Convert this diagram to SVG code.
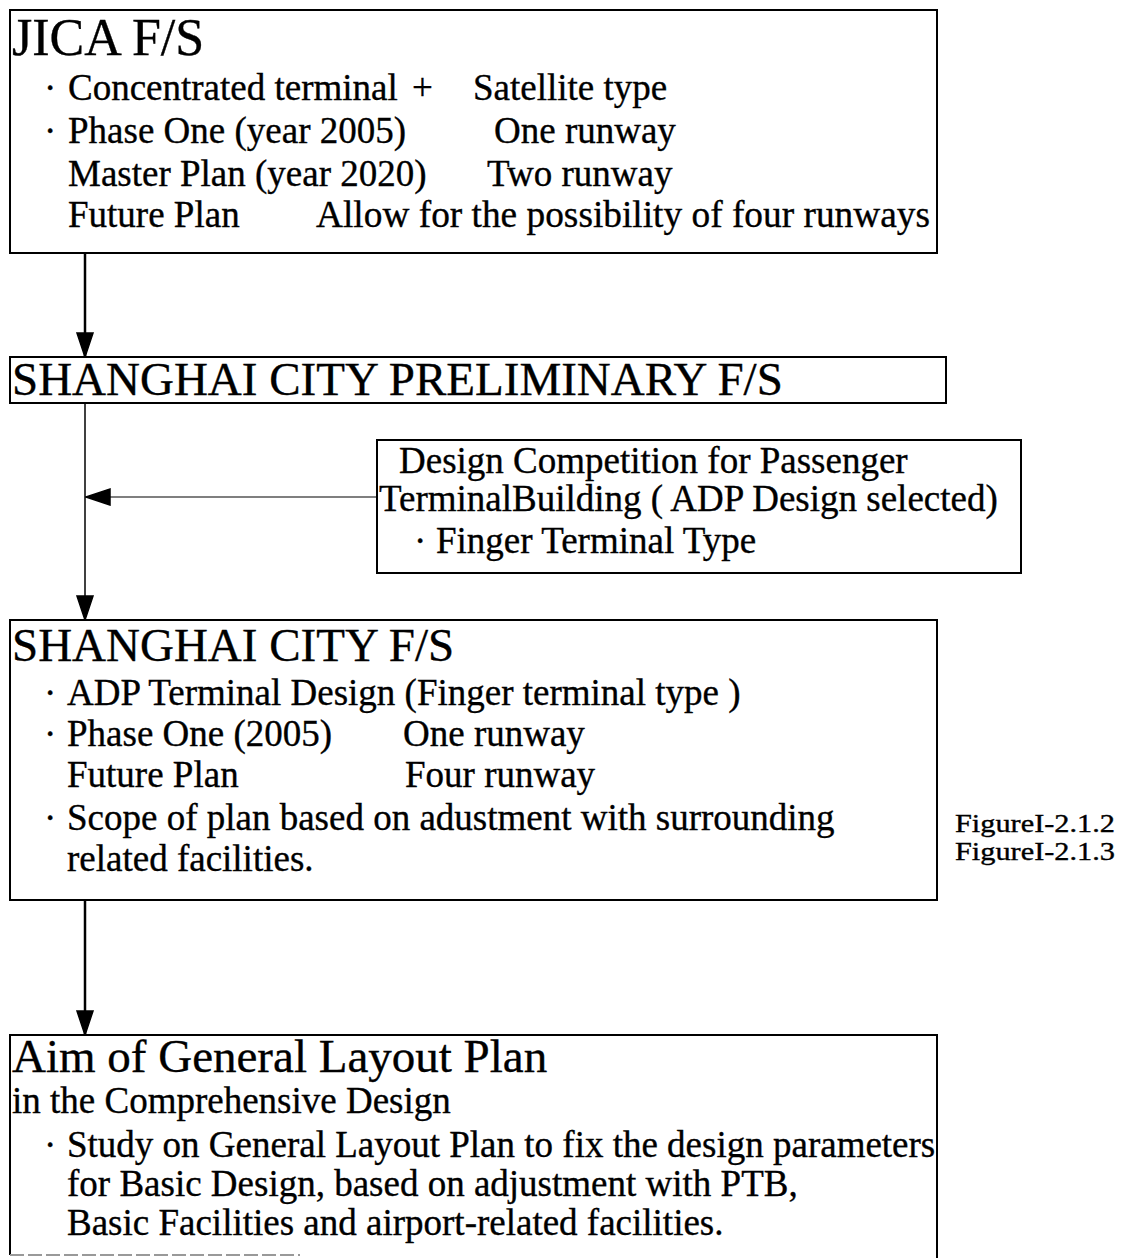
<svg xmlns="http://www.w3.org/2000/svg" width="1125" height="1258" viewBox="0 0 1125 1258">
<style>
  .box { fill: none; stroke: #000; stroke-width: 2; }
  .t { font-family: "Liberation Serif", "Times New Roman", serif; fill: #000; stroke: #000; stroke-width: 0.35; }
  .h1 { font-size: 47px; }
  .b { font-size: 37px; }
  .s { font-size: 25px; }
  .link { fill: none; stroke: #000; stroke-width: 2.5; }
  .thin { stroke-width: 1.5; }
  .hair { stroke-width: 1.2; }
</style>
<defs>
  <marker id="arrow" markerUnits="userSpaceOnUse" markerWidth="26" markerHeight="20" viewBox="0 0 26 20" refX="25" refY="10" orient="auto">
    <path d="M1,2 L25,10 L1,18 Z" fill="#000" stroke="#000" stroke-width="1.5" stroke-linejoin="miter"/>
  </marker>
</defs>
<rect width="1125" height="1258" fill="#fff"/>

<g id="jica">
  <rect class="box" x="10" y="10" width="927" height="243"/>
  <text class="t" x="12" y="55" font-size="52">JICA F/S</text>
  <text class="t b" x="44" y="100">·</text>
  <text class="t b" x="68" y="100">Concentrated terminal</text>
  <text class="t b" x="412" y="100">+</text>
  <text class="t b" x="473" y="100">Satellite type</text>
  <text class="t b" x="44" y="143">·</text>
  <text class="t b" x="68" y="143">Phase One (year 2005)</text>
  <text class="t b" x="494" y="143">One runway</text>
  <text class="t b" x="68" y="186">Master Plan (year 2020)</text>
  <text class="t b" x="487" y="186">Two runway</text>
  <text class="t b" x="68" y="227">Future Plan</text>
  <text class="t b" x="316" y="227" textLength="614" lengthAdjust="spacingAndGlyphs">Allow for the possibility of four runways</text>
</g>

<g id="prelim">
  <rect class="box" x="10" y="357" width="936" height="46"/>
  <text class="t h1" x="12" y="395">SHANGHAI CITY PRELIMINARY F/S</text>
</g>

<g id="competition">
  <rect class="box" x="377" y="440" width="644" height="133"/>
  <text class="t b" x="399" y="473">Design Competition for Passenger</text>
  <text class="t b" x="379" y="511">TerminalBuilding ( ADP Design selected)</text>
  <text class="t b" x="414" y="553">·</text>
  <text class="t b" x="436" y="553">Finger Terminal Type</text>
</g>

<g id="cityfs">
  <rect class="box" x="10" y="620" width="927" height="280"/>
  <text class="t h1" x="12" y="661">SHANGHAI CITY F/S</text>
  <text class="t b" x="44" y="705">·</text>
  <text class="t b" x="67" y="705">ADP Terminal Design (Finger terminal type )</text>
  <text class="t b" x="44" y="746">·</text>
  <text class="t b" x="67" y="746">Phase One (2005)</text>
  <text class="t b" x="403" y="746">One runway</text>
  <text class="t b" x="67" y="787">Future Plan</text>
  <text class="t b" x="405" y="787">Four runway</text>
  <text class="t b" x="44" y="830">·</text>
  <text class="t b" x="67" y="830">Scope of plan based on adustment with surrounding</text>
  <text class="t b" x="67" y="871">related facilities.</text>
</g>

<g id="figrefs">
  <text class="t s" x="955" y="832" textLength="160" lengthAdjust="spacingAndGlyphs">FigureI-2.1.2</text>
  <text class="t s" x="955" y="860" textLength="160" lengthAdjust="spacingAndGlyphs">FigureI-2.1.3</text>
</g>

<g id="aim">
  <path class="box" d="M10,1255 L10,1035 L937,1035 L937,1258"/>
  <path d="M10,1255 L300,1255" stroke="#999" stroke-width="2" stroke-dasharray="14 4" fill="none"/>
  <text class="t h1" x="12" y="1072">Aim of General Layout Plan</text>
  <text class="t b" x="12" y="1113">in the Comprehensive Design</text>
  <text class="t b" x="44" y="1157">·</text>
  <text class="t b" x="67" y="1157">Study on General Layout Plan to fix the design parameters</text>
  <text class="t b" x="67" y="1196">for Basic Design, based on adjustment with PTB,</text>
  <text class="t b" x="67" y="1235">Basic Facilities and airport-related facilities.</text>
</g>

<g id="connectors">
  <path class="link" d="M85,253 L85,357" marker-end="url(#arrow)"/>
  <path class="link thin" d="M85,403 L85,620" marker-end="url(#arrow)"/>
  <path class="link hair" d="M377,497 L86,497" marker-end="url(#arrow)"/>
  <path class="link" d="M85,900 L85,1035" marker-end="url(#arrow)"/>
</g>
</svg>
